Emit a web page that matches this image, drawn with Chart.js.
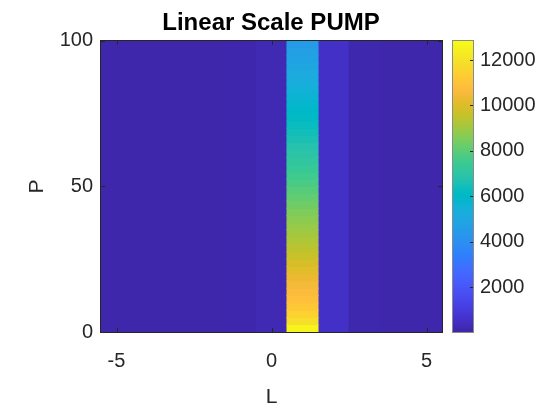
<!DOCTYPE html>
<html>
<head>
<meta charset="utf-8">
<script src="https://cdn.jsdelivr.net/npm/chart.js@4.4.1/dist/chart.umd.min.js"></script>
<style>
  html, body { margin: 0; padding: 0; background: #fff; }
  #wrap { position: relative; width: 546px; height: 408px; }
  #wrap canvas { position: absolute; left: 0; top: 0; }
</style>
</head>
<body>
<div id="wrap">
  <canvas id="pumpChart" width="546" height="408"></canvas>
  <canvas id="pumpBar" width="546" height="408"></canvas>
</div>
<script>
// axis values
var L_VALUES = [-5, -4, -3, -2, -1, 0, 1, 2, 3, 4, 5];
var P_EDGES = [0, 2.5, 5, 7.5, 10, 12.5, 15, 17.5, 20, 22.5, 25, 27.5, 30, 32.5, 35, 37.5,
    40, 42.5, 45, 47.5, 50, 52.5, 55, 57.5, 60, 62.5, 65, 67.5, 70, 72.5, 75, 77.5,
    80, 82.5, 85, 87.5, 90, 92.5, 95, 97.5, 100];

// columns that look flat over the whole P range (L = 1 is read row by row below)
var COLUMN_LEVEL = [60, 60, 60, 70, 80, 200, null, 560, 90, 60, 60];

// L = 1 column, from P = 0 (bottom) up to P = 100
var PUMP_L1 = [12600, 11900, 11450, 11150, 10900, 10700, 10500, 10300, 10080, 9850,
    9630, 9420, 9230, 9040, 8880, 8710, 8530, 8340, 8140, 7940,
    7740, 7540, 7340, 7150, 6960, 6780, 6600, 6430, 6260, 6100,
    5940, 5780, 5620, 5460, 5300, 5140, 4980, 4820, 4660, 4480];

var L_TICKS = [-5, 0, 5];
var P_TICKS = [0, 50, 100];
var CBAR_TICKS = [2000, 4000, 6000, 8000, 10000, 12000];
var C_MIN = 20;
var C_MAX = 12840;

var FONT = "'Liberation Sans', Arial, Helvetica, sans-serif";
var INK = '#262626';

// matlab parula, 64 steps
var PARULA = [
    [0.2422,0.1504,0.6603],[0.2504,0.1650,0.7076],[0.2578,0.1818,0.7511],[0.2647,0.1978,0.7952],
    [0.2706,0.2147,0.8364],[0.2751,0.2342,0.8710],[0.2783,0.2559,0.8991],[0.2803,0.2782,0.9221],
    [0.2813,0.3006,0.9414],[0.2810,0.3228,0.9579],[0.2795,0.3447,0.9717],[0.2760,0.3667,0.9829],
    [0.2699,0.3892,0.9906],[0.2602,0.4123,0.9952],[0.2440,0.4358,0.9988],[0.2206,0.4603,0.9973],
    [0.1963,0.4847,0.9892],[0.1834,0.5074,0.9798],[0.1786,0.5289,0.9682],[0.1764,0.5499,0.9520],
    [0.1687,0.5703,0.9359],[0.1540,0.5902,0.9218],[0.1460,0.6091,0.9079],[0.1380,0.6276,0.8973],
    [0.1248,0.6459,0.8883],[0.1113,0.6635,0.8763],[0.0952,0.6798,0.8598],[0.0689,0.6948,0.8394],
    [0.0297,0.7082,0.8163],[0.0036,0.7203,0.7917],[0.0067,0.7312,0.7660],[0.0433,0.7411,0.7394],
    [0.0964,0.7500,0.7120],[0.1408,0.7584,0.6842],[0.1717,0.7670,0.6554],[0.1938,0.7758,0.6251],
    [0.2161,0.7843,0.5923],[0.2470,0.7918,0.5567],[0.2906,0.7973,0.5188],[0.3406,0.8008,0.4789],
    [0.3909,0.8029,0.4354],[0.4456,0.8024,0.3909],[0.5044,0.7993,0.3480],[0.5616,0.7942,0.3045],
    [0.6174,0.7876,0.2612],[0.6720,0.7793,0.2227],[0.7242,0.7698,0.1910],[0.7738,0.7598,0.1646],
    [0.8203,0.7498,0.1535],[0.8634,0.7406,0.1596],[0.9035,0.7330,0.1774],[0.9393,0.7288,0.2100],
    [0.9728,0.7298,0.2394],[0.9956,0.7434,0.2371],[0.9970,0.7659,0.2199],[0.9952,0.7893,0.2028],
    [0.9892,0.8136,0.1885],[0.9786,0.8386,0.1766],[0.9676,0.8639,0.1643],[0.9610,0.8890,0.1537],
    [0.9597,0.9135,0.1423],[0.9628,0.9373,0.1265],[0.9691,0.9606,0.1064],[0.9769,0.9839,0.0805]
];

function parula(t) {
    t = Math.max(0, Math.min(1, t)) * (PARULA.length - 1);
    var i = Math.min(Math.floor(t), PARULA.length - 2);
    var f = t - i;
    var a = PARULA[i], b = PARULA[i + 1];
    var rgb = [0, 1, 2].map(function (k) { return Math.round(255 * (a[k] + (b[k] - a[k]) * f)); });
    return 'rgb(' + rgb.join(',') + ')';
}

function levelColor(v) {
    return parula((v - C_MIN) / (C_MAX - C_MIN));
}

// heatmap cells as floating bars
var cells = [];
L_VALUES.forEach(function (l, i) {
    if (COLUMN_LEVEL[i] !== null) {
        cells.push({x: l, y: [P_EDGES[0], P_EDGES[P_EDGES.length - 1]], v: COLUMN_LEVEL[i]});
    }
});
PUMP_L1.forEach(function (v, j) {
    cells.push({x: 1, y: [P_EDGES[j], P_EDGES[j + 1]], v: v});
});

function fixedTicks(list) {
    return function (scale) {
        scale.ticks = list.map(function (v) { return {value: v}; });
    };
}

// matlab style box with small inward ticks
var boxPlugin = {
    id: 'box',
    afterDatasetsDraw: function (chart, args, opts) {
        var c = chart.ctx, a = chart.chartArea;
        var xs = chart.scales.x, ys = chart.scales.y;
        var len = opts.tickLen || 4;
        c.save();
        c.strokeStyle = INK;
        c.lineWidth = 1;
        c.beginPath();
        if (opts.xTicks) {
            opts.xTicks.forEach(function (v) {
                var px = Math.round(xs.getPixelForValue(v)) + 0.5;
                c.moveTo(px, a.bottom); c.lineTo(px, a.bottom - len);
                c.moveTo(px, a.top); c.lineTo(px, a.top + len);
            });
        }
        opts.yTicks.forEach(function (v) {
            var py = Math.round(ys.getPixelForValue(v)) + 0.5;
            if (!opts.rightOnly) {
                c.moveTo(a.left, py); c.lineTo(a.left + len, py);
            }
            c.moveTo(a.right, py); c.lineTo(a.right - len, py);
        });
        c.stroke();
        c.strokeStyle = opts.edge || INK;
        c.lineWidth = 1;
        c.strokeRect(Math.round(a.left) - 0.5, Math.round(a.top) - 0.5,
            Math.round(a.right - a.left) + 1, Math.round(a.bottom - a.top) + 1);
        c.restore();
    }
};

var tickFont = {family: FONT, size: 20};

new Chart(document.getElementById('pumpChart'), {
    type: 'bar',
    data: {
        datasets: [{
            data: cells,
            backgroundColor: function (ctx) {
                return ctx.raw ? levelColor(ctx.raw.v) : '#000';
            },
            borderWidth: 0,
            grouped: false,
            barPercentage: 1,
            categoryPercentage: 1,
            inflateAmount: 0.5
        }]
    },
    options: {
        responsive: false,
        animation: false,
        events: [],
        layout: {padding: {left: 0, right: 4, top: 0, bottom: 0}},
        plugins: {
            legend: {display: false},
            tooltip: {enabled: false},
            title: {
                display: true,
                text: 'Linear Scale PUMP',
                color: '#000',
                font: {family: FONT, size: 24, weight: 'bold'},
                padding: {top: 9, bottom: 3}
            },
            box: {xTicks: L_TICKS, yTicks: P_TICKS, tickLen: 4}
        },
        scales: {
            x: {
                type: 'linear',
                min: -5.5,
                max: 5.5,
                offset: false,
                grid: {display: false, drawTicks: false},
                border: {display: false},
                afterBuildTicks: fixedTicks(L_TICKS),
                afterFit: function (s) { s.height = 76; },
                ticks: {color: INK, font: tickFont, padding: 17, maxRotation: 0},
                title: {display: true, text: 'L', color: INK, font: {family: FONT, size: 21, lineHeight: 1}, padding: {top: 0, bottom: 0}}
            },
            y: {
                type: 'linear',
                min: 0,
                max: 100,
                grid: {display: false, drawTicks: false},
                border: {display: false},
                afterBuildTicks: fixedTicks(P_TICKS),
                afterFit: function (s) { s.width = 101; },
                ticks: {color: INK, font: tickFont, padding: 8},
                title: {display: true, text: 'P', color: INK, font: {family: FONT, size: 21}, padding: {top: 25, bottom: 0}}
            },
            // empty room on the right, kept for the colour bar
            yRoom: {
                position: 'right',
                grid: {display: false, drawTicks: false},
                border: {display: false},
                ticks: {display: false},
                afterFit: function (s) { s.width = 100; }
            }
        }
    },
    plugins: [boxPlugin]
});

// colour bar
new Chart(document.getElementById('pumpBar'), {
    type: 'bar',
    data: {
        labels: [''],
        datasets: [{
            data: [[C_MIN, C_MAX]],
            backgroundColor: function (ctx) {
                var area = ctx.chart.chartArea;
                if (!area) return '#3e26a8';
                var g = ctx.chart.ctx.createLinearGradient(0, area.bottom, 0, area.top);
                PARULA.forEach(function (c, i) {
                    g.addColorStop(i / (PARULA.length - 1), parula(i / (PARULA.length - 1)));
                });
                return g;
            },
            borderWidth: 0,
            barPercentage: 1,
            categoryPercentage: 1,
            inflateAmount: 0
        }]
    },
    options: {
        responsive: false,
        animation: false,
        events: [],
        layout: {padding: {left: 453, right: 0, top: 41, bottom: 76}},
        plugins: {
            legend: {display: false},
            tooltip: {enabled: false},
            box: {yTicks: CBAR_TICKS, rightOnly: true, tickLen: 3, edge: '#8a8a8a'}
        },
        scales: {
            x: {display: false},
            y: {
                position: 'right',
                min: C_MIN,
                max: C_MAX,
                grid: {display: false, drawTicks: false},
                border: {display: false},
                afterBuildTicks: fixedTicks(CBAR_TICKS),
                afterFit: function (s) { s.width = 73; },
                ticks: {
                    color: INK, font: tickFont, padding: 7,
                    callback: function (v) { return String(v); }
                }
            }
        }
    },
    plugins: [boxPlugin]
});
</script>
</body>
</html>
